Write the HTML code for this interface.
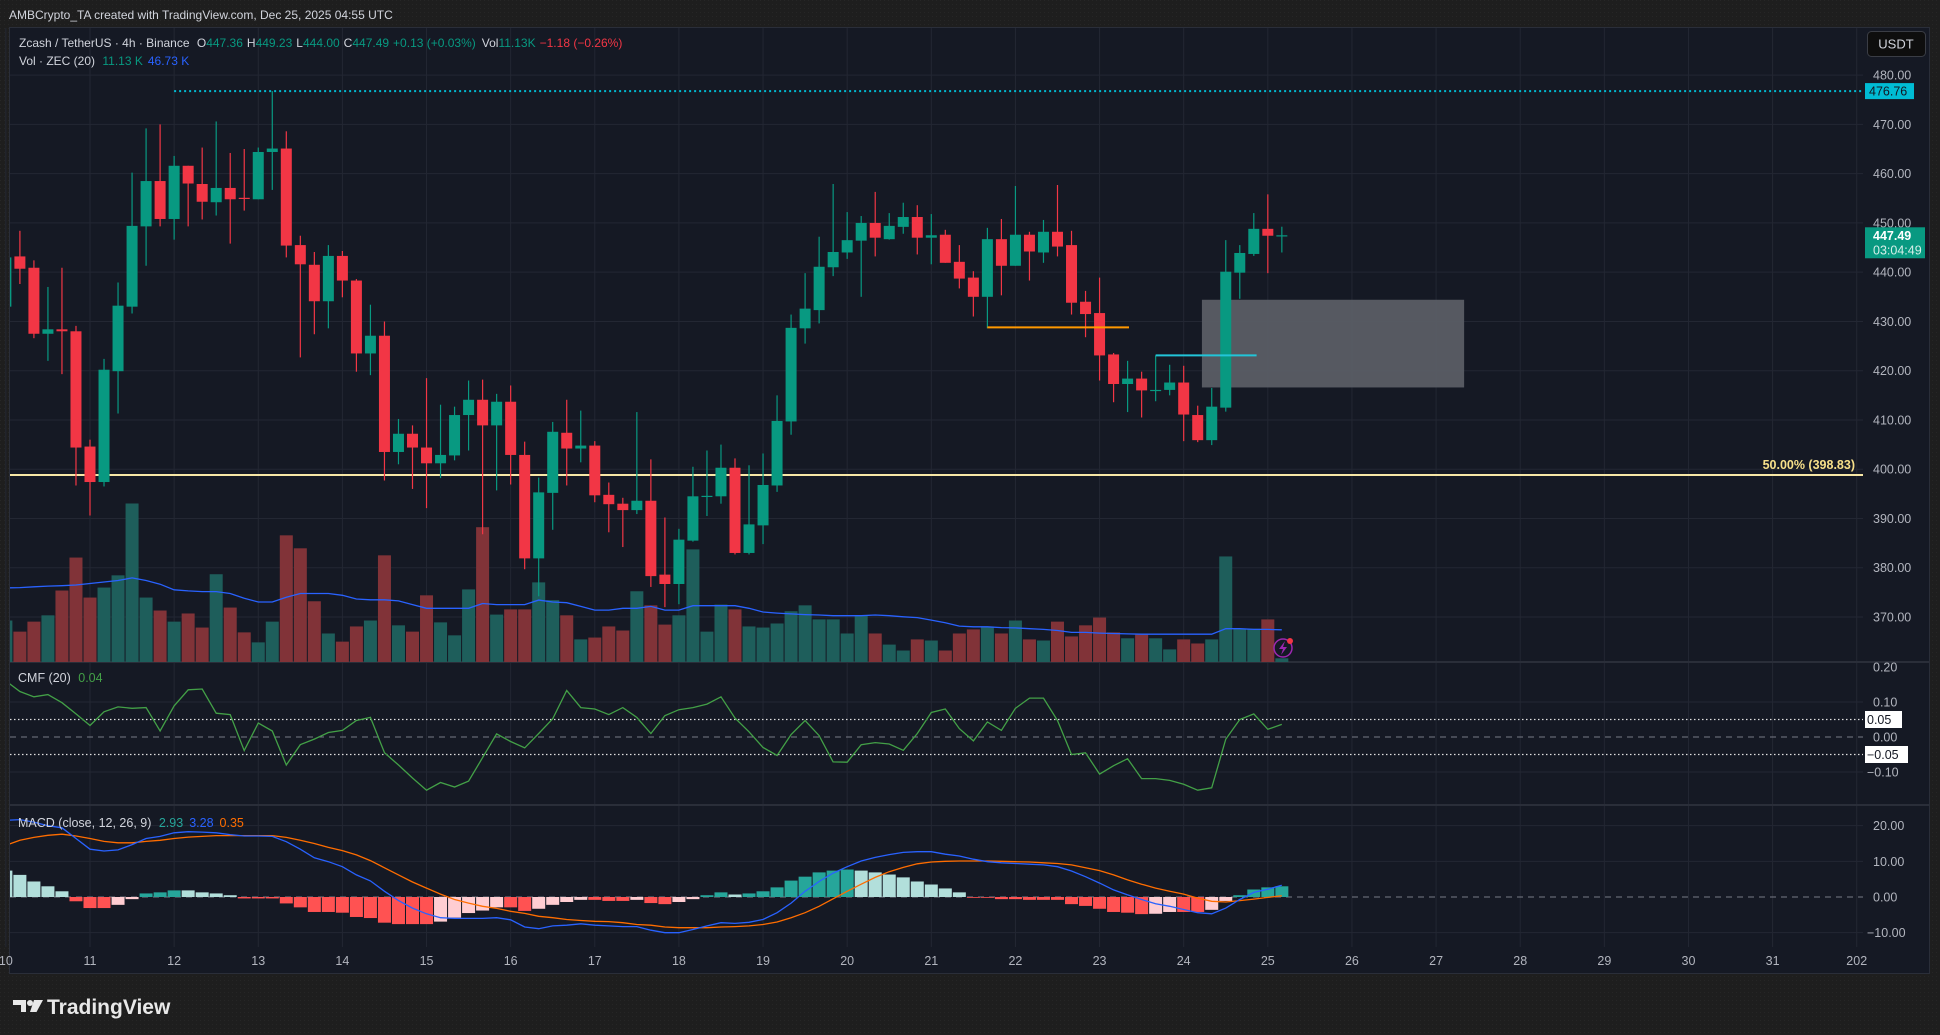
<!DOCTYPE html>
<html><head><meta charset="utf-8"><title>Zcash / TetherUS 4h chart</title>
<style>
html,body{margin:0;padding:0;background:#1e1e1e;}
svg{display:block;font-family:"Liberation Sans",sans-serif;}
</style></head>
<body>
<svg id="chart" width="1940" height="1035" viewBox="0 0 1940 1035" xmlns="http://www.w3.org/2000/svg">
<defs>
<clipPath id="plotClip"><rect x="10" y="27" width="1853" height="920"/></clipPath>
<pattern id="dots" width="4" height="4" patternUnits="userSpaceOnUse"><rect width="4" height="4" fill="#1e1e1e"/><rect width="1" height="1" fill="#262626"/></pattern>
</defs>
<rect x="0" y="0" width="1940" height="1035" fill="url(#dots)"/>
<text x="9" y="19" font-size="12" fill="#d1d4dc">AMBCrypto_TA created with TradingView.com, Dec 25, 2025 04:55 UTC</text>
<rect x="9.5" y="27.5" width="1920" height="946" fill="#151924" stroke="#2a2e39" stroke-width="1"/>
<g id="grid"></g>
<g id="plot" clip-path="url(#plotClip)"></g>
<g id="overlay"></g>
<g id="axes"></g>
<!-- legends -->
<text x="19" y="47" font-size="12" fill="#d1d4dc">Zcash / TetherUS · 4h · Binance <tspan dx="4">O</tspan><tspan fill="#089981">447.36</tspan><tspan dx="4">H</tspan><tspan fill="#089981">449.23</tspan><tspan dx="4">L</tspan><tspan fill="#089981">444.00</tspan><tspan dx="4">C</tspan><tspan fill="#089981">447.49</tspan><tspan dx="4" fill="#089981">+0.13 (+0.03%)</tspan><tspan dx="6">Vol</tspan><tspan fill="#089981">11.13K</tspan><tspan dx="4" fill="#f23645">−1.18 (−0.26%)</tspan></text>
<text x="19" y="65" font-size="12" fill="#d1d4dc">Vol · ZEC (20) <tspan dx="4" fill="#089981">11.13 K</tspan><tspan dx="5" fill="#2962ff">46.73 K</tspan></text>
<text x="18" y="682" font-size="12.5" fill="#d1d4dc">CMF (20) <tspan dx="4" fill="#43a047">0.04</tspan></text>
<text x="18" y="827" font-size="12.5" fill="#d1d4dc">MACD (close, 12, 26, 9) <tspan dx="4" fill="#26a69a">2.93</tspan><tspan dx="6" fill="#2962ff">3.28</tspan><tspan dx="6" fill="#ff6d00">0.35</tspan></text>
<!-- USDT button -->
<rect x="1867.5" y="31.5" width="58" height="25" rx="4" fill="#0e0e0e" stroke="#3a3d45"/>
<text x="1896" y="48.5" font-size="13" fill="#d1d4dc" text-anchor="middle">USDT</text>
<!-- footer logo -->
<g>
<path d="M13 1000 h13 v12 h-5 v-7 h-8 z" fill="#e8e8e8"/>
<circle cx="30" cy="1003" r="3" fill="#e8e8e8"/>
<path d="M34 1000 h9 l-6.5 12 h-6.5 z" fill="#e8e8e8"/>
<text x="47" y="1014" font-size="21" font-weight="bold" fill="#e8e8e8">TradingView</text>
</g>
</svg>
<script>
// ---- data (4h candles from Dec 10 00:00 to Dec 25 04:00) ----
const opens = [433,443.2,440.9,427.5,428.4,428,404.6,397.4,419.9,433,449.3,458.5,450.8,461.6,457.9,454.2,457.1,455.1,454.8,464.4,465.1,445.5,441.5,434.1,443.3,438.3,423.5,427.1,403.5,407.2,404.4,401.2,402.8,411,414.1,408.9,413.7,402.9,381.9,395.2,407.4,404.2,404.8,394.8,393,391.7,393.6,378.6,376.7,385.5,394.5,394.5,400.3,383,388.6,396.7,409.7,428.6,432.3,441,444,446.4,450,446.7,449.2,451.2,447,447.6,442.1,438.9,435,446.7,441.3,447.6,444,448.2,445.5,434,431.7,423.3,417.3,418.4,416,416.1,417.6,411,405.9,412.5,439.9,443.7,448.8,447.36];
const highs = [444,448.4,442.4,437,440.9,429.1,406,422.4,437.9,460.2,469.2,470,463.6,461.6,465.3,470.6,464.2,465,465.3,476.76,468.6,447.4,444.1,445.5,444.3,438.6,433.4,430,410.2,408.9,418.5,413.1,412.7,418,418.2,415.3,417,405.6,398.3,409.6,414.1,411.9,405.7,397.3,394.2,411.6,402,390.2,387.9,400.5,403.8,405,402.2,400.8,403.2,415,431.4,439.8,447.2,457.9,452.2,451.4,456.3,452,454.1,453.6,451.8,448.6,445.5,440.2,449,450.8,457.5,448.2,450.6,457.7,448.4,436.2,438.9,423.6,422,419.8,423.1,421.2,421,412.9,416.5,446.5,445.5,452,455.8,449.23];
const lows = [432,437.6,426.6,422,419.3,396.7,390.6,396.5,411.3,431.6,441.3,449.3,446.6,449.3,450.7,451.5,445.8,452.5,454.8,456.7,443,422.7,427.4,428.6,434.9,419.8,419.1,397.7,401,396,392.1,398.2,401.8,403.8,386.8,395.7,396.9,379.7,374.2,387.7,396.7,401.4,393.3,387.2,384.2,390.9,376.1,372,372.6,385.3,390.5,393,382.7,382.7,384.8,395.4,407,425.5,429.6,439.2,442.7,435,443.2,446.6,447.8,443.6,441.6,441.9,436.7,431,428.6,435.3,441.3,438.3,441.9,443.2,431.4,426.8,418,413.6,411.6,410.5,413.8,415,405.7,405.5,404.9,411.7,434.6,443.3,439.8,444];
const closes = [443,440.7,427.5,428.4,428,404.4,397.4,420.2,433.2,449.4,458.5,450.8,461.6,458,454.3,457.1,454.8,454.9,464.4,465.1,445.4,441.6,434.1,443.3,438.3,423.5,427.1,403.5,407.2,404.4,401.2,402.9,411,414.1,408.9,413.7,402.9,381.9,395.3,407.6,404.2,404.8,394.7,392.9,391.7,393.6,378.3,376.7,385.7,394.5,394.6,400.3,383,388.8,396.8,409.8,428.7,432.6,441.1,444.1,446.5,450,447,449.4,451.2,447,447.5,441.9,438.7,435,446.7,441.3,447.6,444.2,448.2,445.2,433.8,431.5,423.1,417.3,418.4,416,416.1,417.6,411.1,405.9,412.7,440.1,443.9,448.8,447.4,447.49];
const volumes = [112,82,109,126,193,282,174,201,234,428,174,139,109,131,93,237,147,80,53,109,342,307,164,77,55,96,112,288,99,82,180,107,72,196,364,128,142,142,215,167,126,61,66,96,85,191,153,101,126,304,82,155,142,96,93,104,137,153,115,115,77,125,77,47,31,61,58,31,77,88,96,77,112,61,58,109,69,99,120,80,64,74,64,34,61,50,61,285,90,90,115,10];
const volMA = [200,201,203,205,206,208,212,216,220,227,220,210,195,192,190,190,185,172,162,162,175,185,185,185,180,170,168,168,165,155,145,145,145,145,158,155,155,155,167,162,160,150,140,140,145,145,150,140,140,152,152,152,152,145,135,132,130,128,127,125,125,125,127,125,122,120,113,106,97,95,95,93,92,90,88,85,80,80,78,77,76,75,75,75,75,75,75,90,90,88,88,87];
const cmfValues = [0.16,0.13,0.115,0.121,0.098,0.066,0.033,0.072,0.086,0.082,0.084,0.017,0.089,0.135,0.137,0.068,0.064,-0.039,0.04,0.017,-0.08,-0.022,-0.006,0.013,0.019,0.047,0.056,-0.045,-0.08,-0.117,-0.152,-0.13,-0.143,-0.126,-0.059,0.009,-0.013,-0.031,0.01,0.052,0.133,0.084,0.08,0.064,0.084,0.056,0.01,0.061,0.078,0.084,0.094,0.115,0.054,0.015,-0.03,-0.053,0.007,0.047,0.004,-0.071,-0.072,-0.022,-0.016,-0.02,-0.038,0.01,0.07,0.08,0.024,-0.011,0.043,0.019,0.082,0.111,0.111,0.047,-0.05,-0.045,-0.106,-0.082,-0.062,-0.119,-0.119,-0.124,-0.135,-0.152,-0.145,-0.006,0.05,0.066,0.022,0.036];
const macdLine = [21.5,21.7,21,20,19.4,16.4,13.4,12.9,13.2,14.7,16.4,17,18,18.3,18.2,18,17.5,17.1,17.1,17,15.5,13.4,11,9.9,8.5,6.2,4.5,1.6,-1,-3.1,-4.7,-5.8,-6,-6,-6,-5.8,-6.4,-8.4,-8.9,-8.1,-7.9,-7.5,-7.9,-8.1,-8.3,-8.3,-9.3,-10,-10,-9.1,-8.1,-7.2,-7.4,-7.1,-6.3,-4.4,-1.7,1.6,4.35,6.7,8.5,10.1,11.1,11.9,12.5,12.7,12.7,12,11.5,10.6,9.9,9.6,9.4,9.2,9,8.5,7.3,5.7,3.9,2,0.6,-0.7,-1.9,-2.6,-3.5,-4.4,-4.7,-3.1,-0.7,1.3,2.2,3.28];
const signalLine = [14.5,15.9,16.7,17.3,17.6,17.1,16.4,15.6,15.2,15.2,15.6,15.9,16.4,16.8,17,17.2,17.2,17.2,17.2,17.2,16.7,15.9,15,13.9,13,11.8,10.2,8.2,6.2,4.2,2.5,0.8,-0.7,-1.7,-2.6,-3.2,-4,-4.6,-5.4,-5.8,-6.3,-6.6,-6.8,-6.9,-7.2,-7.7,-7.9,-8.4,-8.6,-8.6,-8.6,-8.4,-8.3,-8.1,-7.7,-7,-5.8,-4.4,-2.6,-0.5,1.6,3.6,5.5,7.1,8.3,9.3,9.8,10,10.1,10.1,10.1,10,9.9,9.8,9.6,9.4,9,8.2,7.4,6.2,4.8,3.6,2.5,1.6,0.8,-0.3,-1.2,-1.4,-1,-0.6,-0.1,0.35];
const histValues = [7.4,6.2,4.35,3.0,1.6,-1.2,-3.1,-3.1,-2.2,-0.6,1.0,1.3,1.85,1.85,1.3,1.0,0.5,-0.4,-0.4,-0.4,-1.8,-2.9,-4.2,-4.2,-4.4,-5.6,-5.9,-7.2,-7.6,-7.6,-7.6,-6.9,-5.8,-4.5,-3.8,-2.9,-2.9,-3.9,-3.3,-2.2,-1.4,-0.8,-0.8,-1.1,-1.1,-0.8,-1.7,-2.0,-1.4,-0.6,0.5,1.3,0.7,1.0,1.6,2.7,4.6,5.7,6.9,7.4,7.7,7.4,6.9,6.3,5.5,4.35,3.5,2.4,1.3,-0.1,-0.1,-0.6,-0.6,-0.8,-0.8,-0.8,-2.0,-2.5,-3.3,-4.2,-4.4,-4.8,-4.7,-4.2,-4.2,-4.2,-3.6,-1.1,0.5,2.1,2.7,3.0];
const priceTicks = [480,470,460,450,440,430,420,410,400,390,380,370];
const cmfTicks = [0.20,0.10,0.00,-0.10];
const macdTicks = [20,10,0,-10];
const dayLabels = ["10","11","12","13","14","15","16","17","18","19","20","21","22","23","24","25","26","27","28","29","30","31","202"];
const fibLevel = 398.83;
const highLevel = 476.76;
const lastPrice = 447.49;
const orangeLevel = 428.8, orangeFrom = 70, orangeTo = 80.1;
const cyanLevel = 423.1, cyanFrom = 82, cyanTo = 89.2;
const zoneTop = 434.4, zoneBottom = 416.6, zoneFrom = 85.3, zoneTo = 104.0;

// ---- scales ----
const NS = "http://www.w3.org/2000/svg";
const DAY = 84.13, CW = DAY / 6;
function xIdx(i) { return 90 + (i - 6) * CW; }
function xDay(k) { return 90 + (k - 1) * DAY; } // k=0 -> day 10
function yPrice(p) { return 124.4 + (470 - p) * 4.926; }
function yVol(v) { return 662 - v / 2.7; }
function yCmf(v) { return 737 - v * 350; }
function yMacd(v) { return 897 - v * 3.567; }
function el(tag, attrs, parent) {
  const e = document.createElementNS(NS, tag);
  for (const k in attrs) e.setAttribute(k, attrs[k]);
  parent.appendChild(e);
  return e;
}
const grid = document.getElementById('grid');
const plot = document.getElementById('plot');
const overlay = document.getElementById('overlay');
const axes = document.getElementById('axes');
const GRID = "#232733";

// vertical grid + time labels
dayLabels.forEach((lab, k) => {
  const x = xDay(k);
  const g = el('line', {x1: x, x2: x, y1: 28, y2: 947, stroke: GRID, 'stroke-width': 1}, grid);
  
  
  const t = el('text', {x: x, y: 965, 'font-size': 12.5, fill: '#b2b5be', 'text-anchor': 'middle'}, axes);
  t.textContent = lab;
  
  
});
// price grid + labels
priceTicks.forEach(p => {
  const y = yPrice(p);
  const g = el('line', {x1: 10, x2: 1863, y1: y, y2: y, stroke: GRID}, grid);
  
  
  const t = el('text', {x: 1873, y: y + 4.5, 'font-size': 12.5, fill: '#b2b5be'}, axes);
  t.textContent = p.toFixed(2);
  
  
});
// CMF grid
cmfTicks.forEach(v => {
  const y = yCmf(v);
  if (v !== 0 && v < 0.15) {
    const g = el('line', {x1: 10, x2: 1863, y1: y, y2: y, stroke: GRID}, grid);
    
    
  }
  const t = el('text', {x: v < 0 ? 1867 : 1873, y: y + 4.5, 'font-size': 12.5, fill: '#b2b5be'}, axes);
  t.textContent = (v < 0 ? '−' + Math.abs(v).toFixed(2) : v.toFixed(2));
  
  
});
// MACD grid
macdTicks.forEach(v => {
  const y = yMacd(v);
  if (v !== 0) {
    const g = el('line', {x1: 10, x2: 1863, y1: y, y2: y, stroke: GRID}, grid);
    
    
  }
  const t = el('text', {x: v < 0 ? 1867 : 1873, y: y + 4.5, 'font-size': 12.5, fill: '#b2b5be'}, axes);
  t.textContent = (v < 0 ? '−' + Math.abs(v).toFixed(2) : v.toFixed(2));
  
  
});
// pane separators
[662, 805].forEach(y => {
  const s = el('line', {x1: 10, x2: 1929, y1: y, y2: y, stroke: '#2a2e39', 'stroke-width': 2}, grid);
  
  
});

// ---- volume ----
volumes.forEach((v, i) => {
  const up = closes[i] >= opens[i];
  const y = yVol(v);
  const r = el('rect', {x: xIdx(i) - 6.5, y: y, width: 13, height: 662 - y, fill: up ? '#1e5e5b' : '#813338'}, plot);
  
  
});
const vmaPath = volMA.map((v, i) => (i ? 'L' : 'M') + xIdx(i).toFixed(1) + ' ' + yVol(v).toFixed(1)).join(' ');
const vma = el('path', {d: vmaPath, fill: 'none', stroke: '#2962ff', 'stroke-width': 1.3}, plot);



// zone rectangle
const zone = el('rect', {x: xIdx(zoneFrom), y: yPrice(zoneTop), width: xIdx(zoneTo) - xIdx(zoneFrom), height: yPrice(zoneBottom) - yPrice(zoneTop), fill: '#5a5d65', 'fill-opacity': 0.95}, plot);



// fib line
const fib = el('line', {x1: 10, x2: 1863, y1: yPrice(fibLevel), y2: yPrice(fibLevel), stroke: '#f7e7a6', 'stroke-width': 2}, plot);


const fibT = el('text', {x: 1855, y: yPrice(fibLevel) - 6, 'font-size': 12.5, fill: '#f7e08a', 'text-anchor': 'end', 'font-weight': 'bold'}, overlay);
fibT.textContent = '50.00% (398.83)';



// high dotted line
const hl = el('line', {x1: xIdx(12), x2: 1863, y1: yPrice(highLevel), y2: yPrice(highLevel), stroke: '#00bcd4', 'stroke-width': 2, 'stroke-dasharray': '2 3'}, plot);



// ---- candles ----
opens.forEach((o, i) => {
  const c = closes[i], up = c >= o, col = up ? '#089981' : '#f23645', x = xIdx(i);
  const w = el('line', {x1: x, x2: x, y1: yPrice(highs[i]), y2: yPrice(lows[i]), stroke: col, 'stroke-width': 1.2}, plot);
  
  
  const top = yPrice(Math.max(o, c)), bot = yPrice(Math.min(o, c));
  const b = el('rect', {x: x - 5.5, y: top, width: 11, height: Math.max(1.2, bot - top), fill: col}, plot);
  
  
});

// drawn levels
const ol = el('line', {x1: xIdx(orangeFrom), x2: xIdx(orangeTo), y1: yPrice(orangeLevel), y2: yPrice(orangeLevel), stroke: '#ff9800', 'stroke-width': 2}, plot);


const cl = el('line', {x1: xIdx(cyanFrom), x2: xIdx(cyanTo), y1: yPrice(cyanLevel), y2: yPrice(cyanLevel), stroke: '#22c5d8', 'stroke-width': 2}, plot);



// lightning icon
const li = el('g', {}, overlay);


el('circle', {cx: 1283, cy: 648, r: 9, fill: 'none', stroke: '#9c27b0', 'stroke-width': 1.5}, li);
el('path', {d: 'M1285 641 l-6 8 h4 l-2 6 l6 -8 h-4 z', fill: '#9c27b0'}, li);
el('circle', {cx: 1290, cy: 641, r: 3, fill: '#f23645'}, li);

// ---- CMF pane ----
[0.05, -0.05].forEach(v => {
  const d = el('line', {x1: 10, x2: 1863, y1: yCmf(v), y2: yCmf(v), stroke: '#e0e0e0', 'stroke-width': 1.2, 'stroke-dasharray': '1.5 2.5'}, plot);
  
  
});
const cz = el('line', {x1: 10, x2: 1863, y1: yCmf(0), y2: yCmf(0), stroke: '#787b86', 'stroke-dasharray': '6 5'}, plot);


const cmfPath = cmfValues.map((v, i) => (i ? 'L' : 'M') + xIdx(i).toFixed(1) + ' ' + yCmf(v).toFixed(1)).join(' ');
const cp = el('path', {d: cmfPath, fill: 'none', stroke: '#43a047', 'stroke-width': 1.3}, plot);



// ---- MACD pane ----
const mz = el('line', {x1: 10, x2: 1863, y1: yMacd(0), y2: yMacd(0), stroke: '#787b86', 'stroke-dasharray': '6 5'}, plot);


histValues.forEach((h, i) => {
  const prev = i ? histValues[i - 1] : h;
  let col;
  if (h >= 0) col = h > prev ? '#26a69a' : '#b2dfdb';
  else col = h > prev ? '#ffcdd2' : '#ff5252';
  if (i === 0) col = '#b2dfdb';
  const y0 = yMacd(0), y1 = yMacd(h);
  const r = el('rect', {x: xIdx(i) - 6.5, y: Math.min(y0, y1), width: 13, height: Math.max(0.8, Math.abs(y1 - y0)), fill: col}, plot);
  
  
});
const sp = el('path', {d: signalLine.map((v, i) => (i ? 'L' : 'M') + xIdx(i).toFixed(1) + ' ' + yMacd(v).toFixed(1)).join(' '), fill: 'none', stroke: '#ff6d00', 'stroke-width': 1.3}, plot);


const mp = el('path', {d: macdLine.map((v, i) => (i ? 'L' : 'M') + xIdx(i).toFixed(1) + ' ' + yMacd(v).toFixed(1)).join(' '), fill: 'none', stroke: '#2962ff', 'stroke-width': 1.3}, plot);



// ---- axis badges ----
function badge(name, x, y, w, h, bg) {
  const r = el('rect', {x: x, y: y, width: w, height: h, fill: bg}, axes);
  
  
  return r;
}
const hy = yPrice(highLevel);
badge('high-price-badge', 1865, hy - 8, 49, 16, '#00bcd4');
const ht = el('text', {x: 1869, y: hy + 4.5, 'font-size': 12.5, fill: '#131722'}, axes);
ht.textContent = '476.76';



const ly = yPrice(lastPrice);
badge('last-price-badge', 1865, ly - 8, 60, 31, '#089981');
const lt = el('text', {x: 1873, y: ly + 4.5, 'font-size': 12.5, fill: '#ffffff', 'font-weight': 'bold'}, axes);
lt.textContent = lastPrice.toFixed(2);


const ct = el('text', {x: 1873, y: ly + 19, 'font-size': 12.5, fill: '#d6efe9'}, axes);
ct.textContent = '03:04:49';



[[0.05, '0.05', 37], [-0.05, '−0.05', 43]].forEach(([v, s, w]) => {
  const y = yCmf(v);
  badge('cmf-band-badge', 1865, y - 8.5, w, 17, '#ffffff');
  const t = el('text', {x: 1867, y: y + 4.5, 'font-size': 12.5, fill: '#131722'}, axes);
  t.textContent = s;
  
  
});
</script>
</body></html>
